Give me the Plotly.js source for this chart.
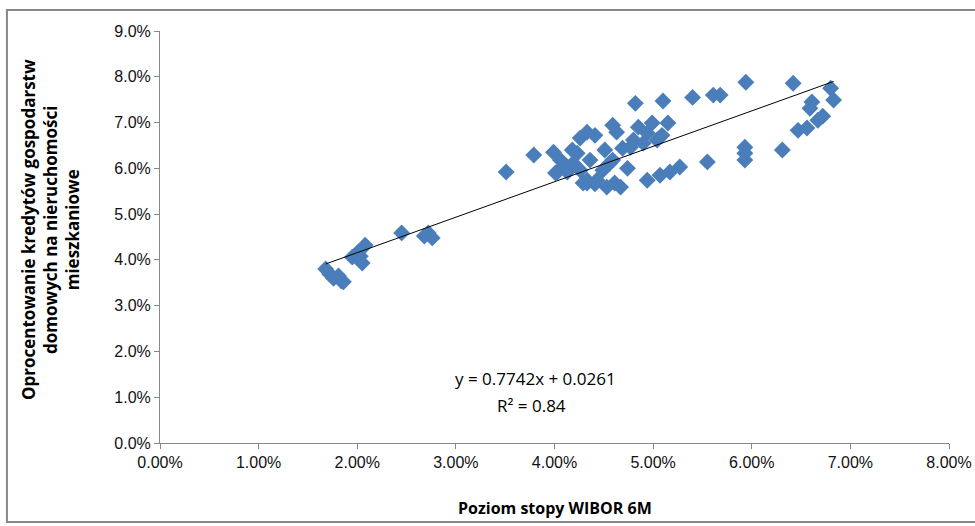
<!DOCTYPE html>
<html>
<head>
<meta charset="utf-8">
<script src="https://cdn.plot.ly/plotly-3.0.1.min.js"></script>
<style>html,body{margin:0;padding:0;background:#fff;}#chart{width:975px;height:526px;}</style>
</head>
<body>
<div id="chart"></div>
<script>
// WIBOR 6M level (%)
const wibor = [
  1.68,1.72,1.76,1.84,1.86,1.81,1.95,2.00,2.05,2.08,2.03,
  2.45,2.72,2.76,2.68,
  3.51,3.79,3.99,4.01,4.09,4.19,4.26,4.33,4.41,4.33,4.03,4.13,4.23,4.26,4.33,4.41,
  4.51,4.59,4.63,4.59,4.49,4.29,4.43,4.53,4.61,4.67,4.56,4.74,4.69,4.80,4.85,4.94,
  4.99,5.09,5.15,4.90,5.04,4.77,4.82,5.10,5.40,5.61,5.68,5.94,6.42,
  4.94,5.07,5.17,5.27,5.55,5.93,5.93,5.93,6.31,6.47,6.56,6.67,6.72,6.59,6.61,6.80,6.83,
  4.18,4.06,4.36
];
// Mortgage interest rate (%)
const rate = [
  3.80,3.69,3.60,3.54,3.52,3.65,4.06,4.15,3.93,4.32,4.08,
  4.59,4.59,4.48,4.52,
  5.92,6.29,6.35,5.90,6.03,6.11,5.96,5.68,5.66,5.74,5.92,5.92,6.33,6.66,6.79,6.72,
  6.40,6.94,6.79,6.18,5.96,5.68,5.74,5.59,5.68,5.59,6.11,6.00,6.44,6.62,6.90,6.77,
  6.99,6.72,6.99,6.55,6.62,6.46,7.42,7.47,7.55,7.60,7.60,7.88,7.86,
  5.74,5.85,5.92,6.03,6.14,6.46,6.33,6.18,6.40,6.83,6.88,7.05,7.14,7.31,7.45,7.75,7.49,
  6.40,6.18,6.18
];
const slope = 0.7742;
const intercept = 0.0261;
const r2 = 0.84;
const xTitle = 'Poziom stopy WIBOR 6M';
const yTitle = 'Oprocentowanie kredytów gospodarstw<br>domowych na nieruchomości<br>mieszkaniowe';

const xs = wibor.map(v => v / 100);
const ys = rate.map(v => v / 100);
const xmin = Math.min(...xs), xmax = Math.max(...xs);

const scatter = {
  x: xs, y: ys, type: 'scatter', mode: 'markers',
  marker: {symbol: 'diamond', size: 13, color: '#4A7EBB', line: {width: 0}},
  hoverinfo: 'x+y', showlegend: false
};
const trend = {
  x: [xmin, xmax], y: [slope * xmin + intercept, slope * xmax + intercept],
  type: 'scatter', mode: 'lines', line: {color: '#000', width: 1},
  showlegend: false, hoverinfo: 'skip'
};

const tickFont = {family: '"Liberation Sans Narrow", "Liberation Sans", Arial, sans-serif', size: 16, color: '#111'};
const titleFamily = '"Open Sans", "Liberation Sans", Arial, sans-serif';
const eqFont = {family: titleFamily, size: 17, color: '#000'};

const layout = {
  width: 975, height: 526,
  margin: {l: 160, r: 26, t: 31, b: 83},
  paper_bgcolor: '#fff', plot_bgcolor: '#fff',
  showlegend: false,
  xaxis: {
    range: [0, 0.08], dtick: 0.01, tick0: 0, tickformat: '.2%',
    showgrid: false, zeroline: false, showline: true, linecolor: '#888', linewidth: 1,
    ticks: 'outside', ticklen: 5, tickcolor: '#888', tickfont: tickFont
  },
  yaxis: {
    range: [0, 0.09], dtick: 0.01, tick0: 0, tickformat: '.1%',
    showgrid: false, zeroline: false, showline: true, linecolor: '#888', linewidth: 1,
    ticks: 'outside', ticklen: 5, tickcolor: '#888', tickfont: tickFont
  },
  annotations: [
    {xref: 'paper', yref: 'paper', x: 0.5, y: -0.158, xanchor: 'center', yanchor: 'middle',
     text: '<b>' + xTitle + '</b>', showarrow: false, font: {family: titleFamily, size: 16, color: '#000'}},
    {xref: 'paper', yref: 'paper', x: -0.138, y: 0.517, xanchor: 'center', yanchor: 'middle', textangle: -90,
     text: '<b>' + yTitle + '</b>', showarrow: false, font: {family: titleFamily, size: 17, color: '#000'}},
    {xref: 'x', yref: 'y', x: 0.0381, y: 0.0142, text: 'y = ' + slope + 'x + ' + intercept,
     showarrow: false, font: eqFont},
    {xref: 'x', yref: 'y', x: 0.0377, y: 0.0083, text: 'R² = ' + r2,
     showarrow: false, font: eqFont}
  ],
  shapes: [
    {type: 'rect', xref: 'paper', yref: 'paper', x0: -0.194, x1: 1.05, y0: -0.192, y1: 1.051,
     line: {color: '#888', width: 2}, fillcolor: 'rgba(0,0,0,0)', layer: 'below'}
  ]
};

Plotly.newPlot('chart', [scatter, trend], layout, {displayModeBar: false, staticPlot: true});
</script>
</body>
</html>
